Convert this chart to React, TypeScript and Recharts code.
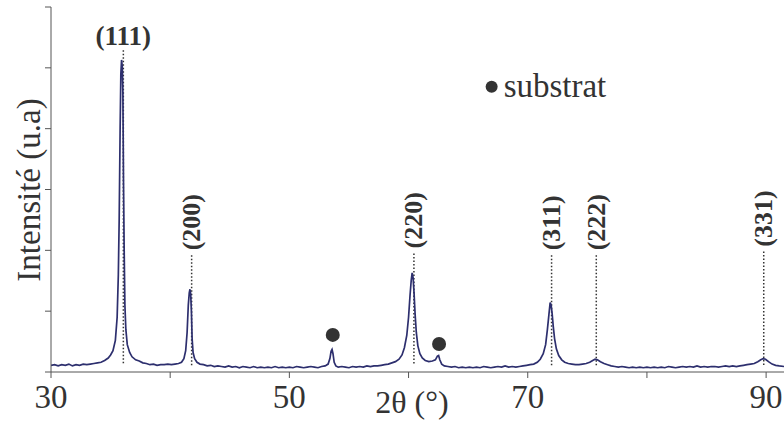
import React from "react";
import { ComposedChart, Line, Scatter, XAxis, YAxis, ReferenceLine } from "recharts";

// XRD pattern: [2θ (°), intensity (a.u.)]
const pattern: [number, number][] = [
  [30.0,0.11],[30.3,0.12],[30.6,0.10],[30.9,0.12],[31.2,0.11],[31.5,0.13],[31.8,0.10],[32.1,0.12],[32.4,0.11],[32.7,0.13],
  [33.0,0.12],[33.3,0.13],[33.6,0.14],[33.9,0.15],[34.2,0.16],[34.5,0.19],[34.8,0.23],[35.0,0.28],[35.2,0.35],[35.4,0.52],
  [35.55,0.9],[35.65,1.6],[35.72,2.5],[35.8,4.0],[35.86,4.9],[35.92,5.13],[35.98,5.02],[36.03,4.6],[36.08,3.2],[36.14,2.0],
  [36.2,1.1],[36.28,0.7],[36.4,0.45],[36.6,0.32],[36.8,0.25],[37.1,0.2],[37.4,0.18],[37.7,0.15],[38.0,0.14],[38.3,0.12],
  [38.6,0.13],[38.9,0.11],[39.2,0.12],[39.5,0.12],[39.8,0.13],[40.1,0.12],[40.4,0.13],[40.7,0.14],[40.95,0.16],[41.15,0.22],
  [41.3,0.35],[41.42,0.65],[41.52,1.1],[41.6,1.3],[41.66,1.36],[41.72,1.28],[41.78,1.0],[41.84,0.55],[41.92,0.32],[42.05,0.22],
  [42.25,0.16],[42.5,0.13],[42.8,0.12],[43.1,0.1],[43.4,0.11],[43.7,0.09],[44.0,0.1],[44.3,0.09],[44.6,0.08],[44.9,0.1],
  [45.2,0.08],[45.5,0.09],[45.8,0.07],[46.1,0.09],[46.4,0.08],[46.7,0.07],[47.0,0.09],[47.3,0.07],[47.6,0.08],[47.9,0.07],
  [48.2,0.08],[48.5,0.07],[48.8,0.09],[49.1,0.07],[49.4,0.08],[49.7,0.07],[50.0,0.08],[50.3,0.07],[50.6,0.09],[50.9,0.08],
  [51.2,0.07],[51.5,0.08],[51.8,0.09],[52.1,0.08],[52.4,0.07],[52.7,0.09],[53.0,0.1],[53.25,0.13],[53.4,0.22],[53.5,0.34],
  [53.58,0.37],[53.66,0.3],[53.76,0.16],[53.9,0.1],[54.1,0.08],[54.4,0.09],[54.7,0.08],[55.0,0.07],[55.3,0.09],[55.6,0.08],
  [55.9,0.09],[56.2,0.08],[56.5,0.1],[56.8,0.09],[57.1,0.1],[57.4,0.1],[57.7,0.11],[58.0,0.12],[58.3,0.13],[58.6,0.15],
  [58.9,0.17],[59.2,0.21],[59.45,0.28],[59.65,0.4],[59.85,0.6],[60.0,0.9],[60.12,1.25],[60.22,1.5],[60.3,1.63],[60.38,1.55],
  [60.46,1.3],[60.55,0.95],[60.65,0.65],[60.78,0.43],[60.95,0.3],[61.15,0.23],[61.4,0.19],[61.7,0.17],[62.0,0.18],[62.25,0.2],
  [62.42,0.26],[62.52,0.27],[62.62,0.2],[62.78,0.13],[63.0,0.1],[63.3,0.09],[63.6,0.08],[63.9,0.09],[64.2,0.07],[64.5,0.08],
  [64.8,0.07],[65.1,0.08],[65.4,0.07],[65.7,0.08],[66.0,0.07],[66.3,0.09],[66.6,0.08],[66.9,0.07],[67.2,0.08],[67.5,0.09],
  [67.8,0.08],[68.1,0.1],[68.4,0.08],[68.7,0.09],[69.0,0.08],[69.3,0.09],[69.6,0.1],[69.9,0.11],[70.2,0.12],[70.5,0.13],
  [70.8,0.16],[71.05,0.21],[71.3,0.3],[71.5,0.45],[71.65,0.7],[71.78,0.95],[71.88,1.14],[71.96,1.1],[72.05,0.95],[72.14,0.75],
  [72.25,0.55],[72.4,0.38],[72.6,0.27],[72.85,0.2],[73.1,0.16],[73.4,0.14],[73.7,0.13],[74.0,0.12],[74.3,0.12],[74.6,0.13],
  [74.9,0.14],[75.2,0.16],[75.45,0.19],[75.65,0.21],[75.85,0.2],[76.1,0.17],[76.4,0.14],[76.7,0.12],[77.0,0.1],[77.3,0.09],
  [77.6,0.08],[77.9,0.09],[78.2,0.08],[78.5,0.07],[78.8,0.08],[79.1,0.07],[79.4,0.08],[79.7,0.07],[80.0,0.08],[80.3,0.07],
  [80.6,0.08],[80.9,0.07],[81.2,0.08],[81.5,0.07],[81.8,0.09],[82.1,0.08],[82.4,0.07],[82.7,0.08],[83.0,0.09],[83.3,0.08],
  [83.6,0.09],[83.9,0.08],[84.2,0.1],[84.5,0.08],[84.8,0.09],[85.1,0.08],[85.4,0.09],[85.7,0.09],[86.0,0.08],[86.3,0.09],
  [86.6,0.1],[86.9,0.09],[87.2,0.1],[87.5,0.09],[87.8,0.1],[88.1,0.11],[88.4,0.12],[88.7,0.13],[89.0,0.14],[89.3,0.17],
  [89.55,0.2],[89.75,0.22],[89.95,0.21],[90.2,0.17],[90.5,0.13],[90.8,0.11],[91.1,0.1],[91.5,0.09],
];

// Miller-index peak markers
const peakLabels = ["(111)", "(200)", "(220)", "(311)", "(222)", "(331)"];
const peakPositions = [36.07, 41.8, 60.45, 72.0, 75.75, 89.8];
const peakLineTops = [5.29, 1.92, 1.95, 1.92, 1.92, 1.98];
const peakLabelAnchors = [5.37, 2.0, 2.03, 2.0, 2.0, 2.06];
const peakLineBottom = 0.11;

// substrate markers
const substrateT = [53.64, 62.56];
const substrateV = [0.61, 0.46];

// legend
const legendText = "substrat";
const legendT = 66.97;
const legendV = 4.69;

const xTicks = [30, 40, 50, 60, 70, 80, 90];
const xTickLabels = ["30", "", "50", "", "70", "", "90"];
const yTicks = [0, 1, 2, 3, 4, 5, 6];
const xTitle = "2θ (°)";
const yTitle = "Intensité (u.a)";

const FONT = "Liberation Serif, Times New Roman, serif";
const LINE = "#2d2f6e";
const INK = "#333333";
const AXIS = "#555555";

const lineData = pattern.map(([t, v]) => ({ t, v }));
const labelData = peakLabels.map((label, i) => ({ t: peakPositions[i], v: peakLabelAnchors[i], label, horizontal: i === 0 }));
const substrateData = substrateT.map((t, i) => ({ t, v: substrateV[i] }));
const legendData = [{ t: legendT, v: legendV, label: legendText }];

const PeakLabel = (props: any) => {
  const { cx, cy, payload } = props;
  if (payload.horizontal) {
    return (
      <text x={cx} y={cy} textAnchor="middle" style={{ fontFamily: FONT, fontWeight: "bold", fontSize: 27 }} fill={INK}>
        {payload.label}
      </text>
    );
  }
  return (
    <text
      x={cx}
      y={cy}
      transform={`rotate(-90 ${cx} ${cy})`}
      textAnchor="start"
      dominantBaseline="central"
      style={{ fontFamily: FONT, fontWeight: "bold", fontSize: 26 }}
      fill={INK}
    >
      {payload.label}
    </text>
  );
};

const SubstrateDot = (props: any) => <circle cx={props.cx} cy={props.cy} r={7} fill={INK} />;

const LegendMark = (props: any) => (
  <g>
    <circle cx={props.cx} cy={props.cy} r={6} fill={INK} />
    <text x={props.cx + 12} y={props.cy + 10} style={{ fontFamily: FONT, fontSize: 33 }} fill={INK}>
      {props.payload.label}
    </text>
  </g>
);

const XTick = (props: any) => {
  const { x, y, payload } = props;
  const label = xTickLabels[xTicks.indexOf(payload.value)] ?? "";
  return (
    <text x={x} y={y + 28} textAnchor="middle" style={{ fontFamily: FONT, fontSize: 33 }} fill={INK}>
      {label}
    </text>
  );
};

const XTitle = (props: any) => {
  const vb = props.viewBox || { x: 51, y: 372, width: 733, height: 51 };
  return (
    <text x={vb.x + 361} y={vb.y + 41} textAnchor="middle" style={{ fontFamily: FONT, fontSize: 32 }} fill={INK}>
      {xTitle}
    </text>
  );
};

const YTitle = (props: any) => {
  const vb = props.viewBox || { x: 0, y: 7, width: 51, height: 365 };
  const cx = vb.x + 40;
  const cy = vb.y + 183;
  return (
    <text x={cx} y={cy} transform={`rotate(-90 ${cx} ${cy})`} textAnchor="middle" style={{ fontFamily: FONT, fontSize: 33 }} fill={INK}>
      {yTitle}
    </text>
  );
};

export default function App() {
  return (
    <div style={{ position: "absolute", left: 0, top: 0, width: 784, height: 423, background: "#fff" }}>
      <ComposedChart width={784} height={423} margin={{ top: 7, right: 0, bottom: 0, left: 0 }}>
        <XAxis
          dataKey="t"
          type="number"
          domain={[30, 91.5]}
          allowDataOverflow
          ticks={xTicks}
          height={51}
          stroke={AXIS}
          tickSize={6}
          interval={0}
          tick={<XTick />}
          label={<XTitle />}
        />
        <YAxis
          dataKey="v"
          type="number"
          domain={[0, 6]}
          allowDataOverflow
          ticks={yTicks}
          tickFormatter={() => ""}
          width={51}
          stroke={AXIS}
          tickSize={6}
          label={<YTitle />}
        />
        {peakPositions.map((t, i) => (
          <ReferenceLine
            key={peakLabels[i]}
            segment={[{ x: t, y: peakLineTops[i] }, { x: t, y: peakLineBottom }]}
            stroke={INK}
            strokeWidth={1.5}
            strokeDasharray="1.5 2"
          />
        ))}
        <Line
          data={lineData}
          dataKey="v"
          type="linear"
          stroke={LINE}
          strokeWidth={1.7}
          dot={false}
          activeDot={false}
          isAnimationActive={false}
        />
        <Scatter data={substrateData} dataKey="v" shape={SubstrateDot} isAnimationActive={false} />
        <Scatter data={labelData} dataKey="v" shape={PeakLabel} isAnimationActive={false} />
        <Scatter data={legendData} dataKey="v" shape={LegendMark} isAnimationActive={false} />
      </ComposedChart>
    </div>
  );
}
